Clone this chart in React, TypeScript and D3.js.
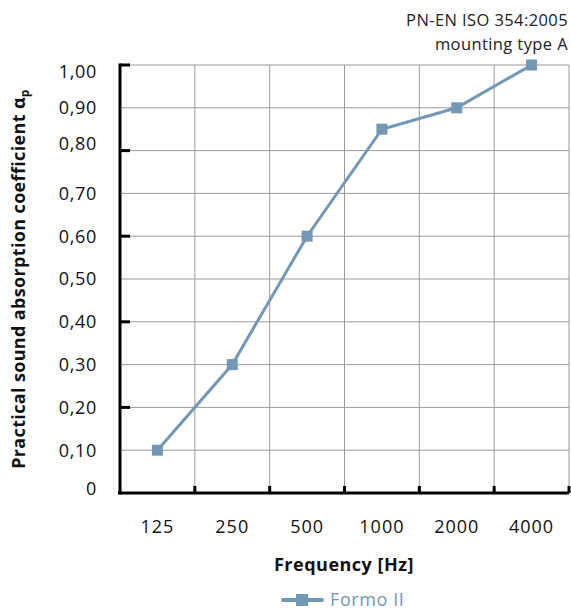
import React from "react";
import * as d3 from "d3";

const categories = ["125", "250", "500", "1000", "2000", "4000"];
const values = [0.1, 0.3, 0.6, 0.85, 0.9, 1.0];
const yGridTicks = [0, 0.1, 0.2, 0.3, 0.4, 0.5, 0.6, 0.7, 0.8, 0.9, 1.0];
const yMajorTicks = [0.2, 0.4, 0.6, 0.8, 1.0];
const yTickLabels = ["0", "0,10", "0,20", "0,30", "0,40", "0,50", "0,60", "0,70", "0,80", "0,90", "1,00"];
const seriesName = "Formo II";
const noteLines = ["PN-EN ISO 354:2005", "mounting type A"];

const W = 571, H = 610;
const M = { left: 120, right: 2, top: 65, bottom: 117 };
const COLOR = "#7198b6";
const FONT = "'Open Sans', 'Noto Sans', sans-serif";

export default function App() {
  const x = d3.scaleBand().domain(categories).range([M.left, W - M.right]).padding(0);
  const y = d3.scaleLinear().domain([0, 1]).range([H - M.bottom, M.top]);
  const cx = (c: string) => (x(c) as number) + x.bandwidth() / 2;
  const line = d3.line<number>().x((_, i) => cx(categories[i])).y((v) => y(v));
  const bounds = [...categories.map((c) => x(c) as number), W - M.right];
  const labelDy: Record<string, number> = { "1,00": 7, "0,80": -7, "0": -4 };
  const legendY = 600;

  return (
    <svg width={W} height={H} style={{ position: "absolute", left: 0, top: 0, background: "#fff" }} fontFamily={FONT}>
      {/* grid */}
      {yGridTicks.map((t) => (
        <line key={"gy" + t} x1={M.left} x2={W - M.right} y1={y(t)} y2={y(t)} stroke="#9a9a9a" strokeWidth={1} />
      ))}
      {bounds.slice(1).map((b, i) => (
        <line key={"gx" + i} x1={b} x2={b} y1={M.top} y2={y(0)} stroke="#9a9a9a" strokeWidth={1} />
      ))}
      {/* axes */}
      <line x1={M.left} x2={M.left} y1={M.top - 1.5} y2={y(0) + 1.5} stroke="#000" strokeWidth={3} />
      <line x1={M.left - 2} x2={W - M.right} y1={y(0)} y2={y(0)} stroke="#000" strokeWidth={3} />
      {yMajorTicks.map((t) => (
        <line key={"yt" + t} x1={M.left} x2={M.left + 10} y1={y(t)} y2={y(t)} stroke="#000" strokeWidth={3} />
      ))}
      {bounds.slice(1).map((b, i) => (
        <line key={"xt" + i} x1={b} x2={b} y1={y(0)} y2={y(0) - 7} stroke="#000" strokeWidth={3} />
      ))}
      {/* y labels */}
      {yGridTicks.map((t, i) => (
        <text key={"yl" + t} x={M.left - 23} y={y(t) + (labelDy[yTickLabels[i]] || 0)} dy="0.35em" textAnchor="end" fontSize={18} letterSpacing={0.7} fill="#111">
          {yTickLabels[i]}
        </text>
      ))}
      {/* x labels */}
      {categories.map((c) => (
        <text key={"xl" + c} x={cx(c)} y={527} dy="0.35em" textAnchor="middle" fontSize={18} letterSpacing={1} fill="#111">
          {c}
        </text>
      ))}
      {/* titles */}
      <text x={344} y={565} dy="0.35em" textAnchor="middle" fontSize={18} letterSpacing={0.5} fontWeight="bold" fill="#111">
        Frequency [Hz]
      </text>
      <text transform={`translate(25,${(M.top + y(0)) / 2}) rotate(-90)`} textAnchor="middle" fontSize={18} letterSpacing={0.35} fontWeight="bold" fill="#111">
        Practical sound absorption coefficient α<tspan fontSize={12} dy={4}>p</tspan>
      </text>
      {noteLines.map((s, i) => (
        <text key={"n" + i} x={W - 3} y={20 + i * 24} dy="0.35em" textAnchor="end" fontSize={16.5} letterSpacing={0.4} fill="#222">
          {s}
        </text>
      ))}
      {/* series */}
      <path d={line(values) || ""} fill="none" stroke={COLOR} strokeWidth={3} />
      {values.map((v, i) => (
        <rect key={"p" + i} x={cx(categories[i]) - 5.5} y={y(v) - 5.5} width={11} height={11} fill={COLOR} />
      ))}
      {/* legend */}
      <line x1={283} x2={322} y1={legendY} y2={legendY} stroke={COLOR} strokeWidth={4} strokeLinecap="round" />
      <rect x={296} y={legendY - 6} width={12} height={12} fill={COLOR} />
      <text x={330} y={legendY} dy="0.35em" fontSize={18} letterSpacing={0.6} fill={COLOR}>
        {seriesName}
      </text>
    </svg>
  );
}
